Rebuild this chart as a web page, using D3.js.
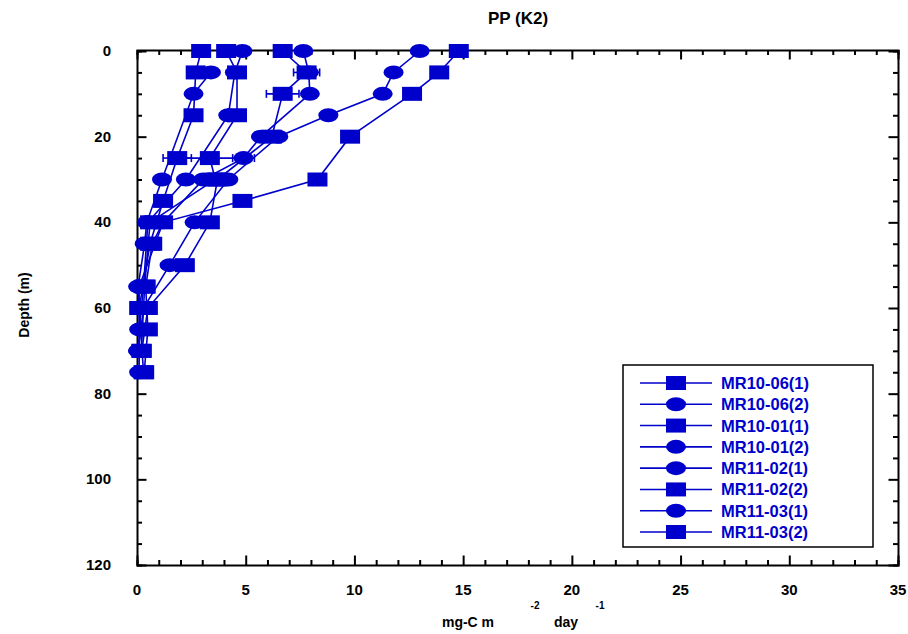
<!DOCTYPE html>
<html>
<head>
<meta charset="utf-8">
<script src="https://cdn.jsdelivr.net/npm/d3@7"></script>
<style>
  body { margin: 0; background: #fff; }
  text { font-family: "Liberation Sans Narrow", "Liberation Sans", Arial, sans-serif; font-weight: bold; }
</style>
</head>
<body>
<div id="container"></div>
<script>
// series names and marker shapes, in legend order
const seriesNames = ["MR10-06(1)", "MR10-06(2)", "MR10-01(1)", "MR10-01(2)",
                     "MR11-02(1)", "MR11-02(2)", "MR11-03(1)", "MR11-03(2)"];
const seriesShapes = ["square", "circle", "square", "circle",
                      "circle", "square", "circle", "square"];

// [depth (m), PP (mg-C m-2 day-1)]
const mr1006_1 = [[0, 14.8], [5, 13.9], [10, 12.65], [20, 9.8], [30, 8.3], [35, 4.85],
                  [40, 1.2], [45, 0.7], [55, 0.4], [65, 0.5], [75, 0.33]];
const mr1006_2 = [[0, 13.0], [5, 11.8], [10, 11.3], [15, 8.8], [20, 6.5], [30, 4.2],
                  [40, 2.65], [50, 1.5], [60, 0.3], [70, 0.05]];
const mr1001_1 = [[0, 6.7], [5, 7.8], [10, 6.7], [20, 6.2], [30, 3.7], [40, 3.35],
                  [50, 2.2], [60, 0.5], [70, 0.22]];
const mr1001_2 = [[0, 7.65], [5, 7.9], [10, 7.95], [20, 5.7], [25, 4.9], [30, 3.05],
                  [40, 1.2], [55, 0.1], [75, 0.1]];
const mr1102_1 = [[5, 3.4], [10, 2.6], [30, 1.15], [40, 0.45], [45, 0.35], [55, 0.05],
                  [65, 0.15], [70, 0.05]];
const mr1102_2 = [[0, 2.95], [5, 2.7], [15, 2.6], [25, 1.85], [35, 1.2], [45, 0.6],
                  [60, 0.1], [75, 0.3]];
const mr1103_1 = [[0, 4.85], [5, 4.5], [15, 4.2], [30, 2.25], [40, 0.5], [55, 0.3],
                  [65, 0.1]];
const mr1103_2 = [[0, 4.1], [5, 4.6], [15, 4.6], [25, 3.35], [30, 3.6], [40, 0.6],
                  [55, 0.35], [70, 0.2]];
const seriesData = [mr1006_1, mr1006_2, mr1001_1, mr1001_2,
                    mr1102_1, mr1102_2, mr1103_1, mr1103_2];

// error bars: [series index, depth, +/- error]
const errorBars = [[2, 5, 0.6], [2, 10, 0.75], [5, 25, 0.65], [7, 25, 1.5], [3, 25, 0.5]];

const xTicks = [0, 5, 10, 15, 20, 25, 30, 35];
const yTicks = [0, 20, 40, 60, 80, 100, 120];

const blue = "#0000cc";
const W = 908, H = 634;

const svg = d3.select("#container").append("svg")
  .attr("width", W).attr("height", H);

const x = d3.scaleLinear().domain([0, 35]).range([137, 898]);
const y = d3.scaleLinear().domain([0, 120]).range([51, 565]);

// title
svg.append("text").attr("x", 518).attr("y", 24).attr("text-anchor", "middle")
  .attr("font-size", 17).text("PP (K2)");

// axes (ticks pointing inward on all four sides)
const xMinor = d3.range(0, 36, 1);
const yMinor = d3.range(0, 121, 5);
function inTicks(axis, major, minor) {
  return g => {
    g.call(axis.tickValues(minor).tickSize(5).tickFormat(""));
    g.selectAll(".tick line").filter(d => major.includes(d))
      .each(function () {
        const l = d3.select(this);
        if (l.attr("y2") !== null && +l.attr("y2") !== 0) l.attr("y2", +l.attr("y2") * 1.9);
        if (l.attr("x2") !== null && +l.attr("x2") !== 0) l.attr("x2", +l.attr("x2") * 1.9);
      });
    g.selectAll(".tick line").attr("stroke-width", 2);
    g.select(".domain").attr("stroke-width", 2);
  };
}
svg.append("g").attr("transform", `translate(0,${y(120)})`)
  .call(inTicks(d3.axisTop(x).tickSizeOuter(0), xTicks, xMinor));
svg.append("g").attr("transform", `translate(0,${y(0) - 1})`)
  .call(inTicks(d3.axisBottom(x).tickSizeOuter(0), xTicks, xMinor));
svg.append("g").attr("transform", `translate(${x(0)},0)`)
  .call(inTicks(d3.axisRight(y).tickSizeOuter(0), yTicks, yMinor));
svg.append("g").attr("transform", `translate(${x(35)},0)`)
  .call(inTicks(d3.axisLeft(y).tickSizeOuter(0), yTicks, yMinor));

// tick labels
svg.append("g").selectAll("text").data(xTicks).join("text")
  .attr("x", d => x(d)).attr("y", 595).attr("text-anchor", "middle")
  .attr("font-size", 15).text(d => d);
svg.append("g").selectAll("text").data(yTicks).join("text")
  .attr("x", 111).attr("y", d => y(d) + 5).attr("text-anchor", "end")
  .attr("font-size", 15).text(d => d);

// axis titles
svg.append("text").attr("transform", "translate(29,305) rotate(-90)")
  .attr("text-anchor", "middle").attr("font-size", 14).text("Depth (m)");
const xl = svg.append("g").attr("font-size", 14);
xl.append("text").attr("x", 468).attr("y", 627).attr("text-anchor", "middle").text("mg-C m");
xl.append("text").attr("x", 535).attr("y", 609).attr("text-anchor", "middle").attr("font-size", 10).text("-2");
xl.append("text").attr("x", 566).attr("y", 627).attr("text-anchor", "middle").text("day");
xl.append("text").attr("x", 600).attr("y", 609).attr("text-anchor", "middle").attr("font-size", 10).text("-1");

// lines
const line = d3.line().x(d => x(d[1])).y(d => y(d[0]));
svg.append("g").selectAll("path").data(seriesData).join("path")
  .attr("d", line).attr("fill", "none").attr("stroke", blue).attr("stroke-width", 1.6);

// error bars
const eb = svg.append("g").attr("stroke", blue).attr("stroke-width", 1.6);
errorBars.forEach(([si, dep, err]) => {
  const pt = seriesData[si].find(p => p[0] === dep);
  const yy = y(dep);
  eb.append("line").attr("x1", x(pt[1] - err)).attr("x2", x(pt[1] + err)).attr("y1", yy).attr("y2", yy);
  [pt[1] - err, pt[1] + err].forEach(v =>
    eb.append("line").attr("x1", x(v)).attr("x2", x(v)).attr("y1", yy - 4).attr("y2", yy + 4));
});

// markers
function drawMarker(g, shape, cx, cy) {
  if (shape === "square") {
    g.append("rect").attr("x", cx - 10).attr("y", cy - 7).attr("width", 20).attr("height", 14).attr("fill", blue);
  } else {
    g.append("ellipse").attr("cx", cx).attr("cy", cy).attr("rx", 10).attr("ry", 7).attr("fill", blue);
  }
}
const mk = svg.append("g");
seriesData.forEach((s, i) => s.forEach(p => drawMarker(mk, seriesShapes[i], x(p[1]), y(p[0]))));

// legend
const lg = svg.append("g");
lg.append("rect").attr("x", 623).attr("y", 365).attr("width", 250).attr("height", 182)
  .attr("fill", "#fff").attr("stroke", "#000").attr("stroke-width", 1.5);
const ly = d3.scalePoint().domain(seriesNames).range([383, 532]);
seriesNames.forEach((n, i) => {
  const yy = ly(n);
  lg.append("line").attr("x1", 640).attr("x2", 712).attr("y1", yy).attr("y2", yy)
    .attr("stroke", blue).attr("stroke-width", 1.6);
  drawMarker(lg, seriesShapes[i], 676, yy);
  lg.append("text").attr("x", 721).attr("y", yy + 6).attr("fill", blue)
    .attr("font-size", 16.5).text(n);
});
</script>
</body>
</html>
